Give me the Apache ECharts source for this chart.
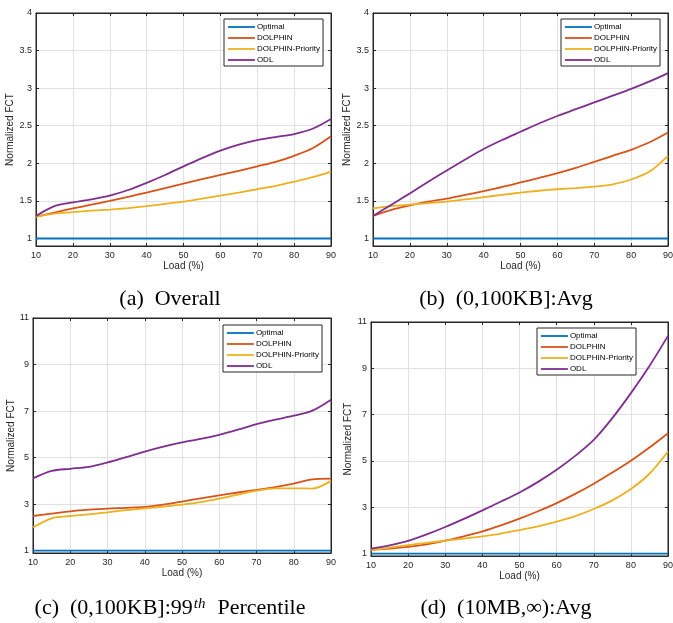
<!DOCTYPE html>
<html>
<head>
<meta charset="utf-8">
<script src="https://cdn.jsdelivr.net/npm/echarts@6/dist/echarts.min.js"></script>
<style>
  html, body { margin: 0; padding: 0; background: #fff; }
  #chart { width: 673px; height: 623px; }
</style>
</head>
<body>
<div id="chart"></div>
<script>
// loads on the x axis (%)
const loads = [10, 15, 20, 25, 30, 35, 40, 45, 50, 55, 60, 65, 70, 75, 80, 85, 90];

const seriesNames = ["Optimal", "DOLPHIN", "DOLPHIN-Priority", "ODL"];
const colors = ["#0072BD", "#D95319", "#EDB120", "#7E2F8E"];

const optimal = [1, 1, 1, 1, 1, 1, 1, 1, 1, 1, 1, 1, 1, 1, 1, 1, 1];

// (a) Overall
const overallDolphin = [1.29, 1.345, 1.40, 1.45, 1.50, 1.555, 1.61, 1.67, 1.73, 1.79, 1.845, 1.90, 1.96, 2.02, 2.10, 2.20, 2.36];
const overallPriority = [1.29, 1.33, 1.35, 1.37, 1.385, 1.405, 1.43, 1.46, 1.49, 1.53, 1.57, 1.61, 1.655, 1.70, 1.755, 1.815, 1.89];
const overallOdl = [1.30, 1.43, 1.48, 1.52, 1.57, 1.645, 1.74, 1.845, 1.96, 2.07, 2.17, 2.25, 2.31, 2.35, 2.39, 2.46, 2.59];

// (b) (0,100KB] avg
const smallAvgDolphin = [1.30, 1.38, 1.44, 1.49, 1.53, 1.58, 1.63, 1.685, 1.745, 1.805, 1.87, 1.94, 2.02, 2.10, 2.18, 2.28, 2.41];
const smallAvgPriority = [1.40, 1.43, 1.45, 1.47, 1.49, 1.52, 1.55, 1.58, 1.61, 1.635, 1.655, 1.67, 1.69, 1.72, 1.785, 1.89, 2.10];
const smallAvgOdl = [1.30, 1.45, 1.60, 1.755, 1.905, 2.05, 2.19, 2.31, 2.42, 2.53, 2.63, 2.72, 2.81, 2.90, 2.99, 3.09, 3.20];

// (c) (0,100KB] 99th percentile
const small99Dolphin = [2.49, 2.59, 2.69, 2.76, 2.81, 2.84, 2.88, 2.98, 3.11, 3.25, 3.38, 3.50, 3.61, 3.73, 3.88, 4.06, 4.10];
const small99Priority = [2.00, 2.39, 2.49, 2.56, 2.65, 2.74, 2.82, 2.89, 2.98, 3.09, 3.24, 3.41, 3.58, 3.68, 3.68, 3.67, 4.00];
const small99Odl = [4.11, 4.43, 4.52, 4.60, 4.79, 5.02, 5.26, 5.47, 5.65, 5.80, 5.98, 6.20, 6.44, 6.63, 6.80, 7.02, 7.49];

// (d) (10MB,inf) avg
const largeAvgDolphin = [1.17, 1.22, 1.29, 1.40, 1.56, 1.75, 1.96, 2.22, 2.51, 2.83, 3.18, 3.58, 4.02, 4.50, 5.01, 5.58, 6.20];
const largeAvgPriority = [1.14, 1.26, 1.37, 1.47, 1.56, 1.65, 1.75, 1.87, 2.02, 2.18, 2.38, 2.62, 2.93, 3.30, 3.79, 4.45, 5.41];
const largeAvgOdl = [1.22, 1.36, 1.55, 1.83, 2.15, 2.50, 2.87, 3.25, 3.64, 4.10, 4.62, 5.22, 5.91, 6.85, 7.93, 9.10, 10.40];

// tick labels
const loadTicks = [10, 20, 30, 40, 50, 60, 70, 80, 90];
const ticksLow = [1, 1.5, 2, 2.5, 3, 3.5, 4];
const ticksHigh = [1, 3, 5, 7, 9, 11];

const captions = [
  "(a)\u2002Overall",
  "(b)\u2002(0,100KB]:Avg",
  "{n|(c)\u2002(0,100KB]:99}{sup|th}{n|\u2002Percentile}",
  "(d)\u2002(10MB,\u221e):Avg"
];

const panels = [
  { grid: { left: 36, top: 13, width: 295, height: 233 }, yMax: 4, ticks: ticksLow, data: [optimal, overallDolphin, overallPriority, overallOdl], legend: [224, 19], nameGap: 20, cap: [170, 299] },
  { grid: { left: 373, top: 13, width: 295, height: 233 }, yMax: 4, ticks: ticksLow, data: [optimal, smallAvgDolphin, smallAvgPriority, smallAvgOdl], legend: [561, 19], nameGap: 20, cap: [506, 299] },
  { grid: { left: 33, top: 318, width: 298, height: 235 }, yMax: 11, ticks: ticksHigh, data: [optimal, small99Dolphin, small99Priority, small99Odl], legend: [223, 325], nameGap: 17, cap: [170, 608] },
  { grid: { left: 371, top: 322, width: 297, height: 234 }, yMax: 11, ticks: ticksHigh, data: [optimal, largeAvgDolphin, largeAvgPriority, largeAvgOdl], legend: [537, 328], nameGap: 18, cap: [506, 608] }
];

const axisColor = "#262626";
const gridColor = "#e1e1e1";
const sans = "'Liberation Sans', Arial, Helvetica, sans-serif";

const grid = [], xAxis = [], yAxis = [], series = [], legend = [], graphic = [];

panels.forEach((p, i) => {
  grid.push(Object.assign({ show: true, borderColor: axisColor, borderWidth: 1, outerBoundsMode: "none" }, p.grid));

  xAxis.push({
    type: "value", gridIndex: i, min: 10, max: 90, interval: 10,
    name: "Load (%)", nameLocation: "middle", nameGap: 15,
    nameTextStyle: { fontSize: 10, color: axisColor, fontFamily: sans },
    axisLine: { show: true, lineStyle: { color: axisColor, width: 1 } },
    axisTick: { show: true, inside: true, length: 3, lineStyle: { color: axisColor } },
    axisLabel: { fontSize: 9, color: axisColor, fontFamily: sans, margin: 5, showMinLabel: true, showMaxLabel: true,
      customValues: loadTicks },
    splitLine: { show: true, lineStyle: { color: gridColor, width: 1 } }
  });
  xAxis.push({
    type: "value", gridIndex: i, position: "top", min: 10, max: 90, interval: 10,
    axisLine: { show: true, lineStyle: { color: axisColor, width: 1 } },
    axisTick: { show: true, inside: true, length: 3, lineStyle: { color: axisColor } },
    axisLabel: { show: false }, splitLine: { show: false }
  });

  yAxis.push({
    type: "value", gridIndex: i, min: 0.9, max: p.yMax,
    name: "Normalized FCT", nameLocation: "middle", nameGap: p.nameGap, nameRotate: 90,
    nameTextStyle: { fontSize: 10, color: axisColor, fontFamily: sans },
    axisLine: { show: true, lineStyle: { color: axisColor, width: 1 } },
    axisTick: { show: true, inside: true, length: 3, lineStyle: { color: axisColor }, customValues: p.ticks },
    axisLabel: { fontSize: 9, color: axisColor, fontFamily: sans, margin: 4, customValues: p.ticks },
    splitLine: { show: true, lineStyle: { color: gridColor, width: 1 } }
  });
  yAxis.push({
    type: "value", gridIndex: i, position: "right", min: 0.9, max: p.yMax,
    axisLine: { show: true, lineStyle: { color: axisColor, width: 1 } },
    axisTick: { show: true, inside: true, length: 3, lineStyle: { color: axisColor }, customValues: p.ticks },
    axisLabel: { show: false }, splitLine: { show: false }
  });

  p.data.forEach((vals, k) => {
    series.push({
      name: seriesNames[k], type: "line",
      xAxisIndex: 2 * i, yAxisIndex: 2 * i,
      data: loads.map((x, j) => [x, vals[j]]),
      smooth: 0.3, symbol: "none", showSymbol: false,
      lineStyle: { color: colors[k], width: 1.8 },
      itemStyle: { color: colors[k] },
      emphasis: { disabled: true }, silent: true, z: 2 + k
    });
  });

  legend.push({
    left: p.legend[0], top: p.legend[1], orient: "vertical",
    data: seriesNames, selectedMode: false,
    itemWidth: 27, itemHeight: 8, itemGap: 3,
    padding: [4, 3, 2, 3],
    backgroundColor: "#fff", borderColor: axisColor, borderWidth: 1,
    itemStyle: { opacity: 0, borderWidth: 0 },
    lineStyle: { width: 1.8 },
    textStyle: { fontSize: 8, color: "#000", fontFamily: sans, padding: [0, 0, 0, -3] }
  });

  graphic.push({
    type: "text", x: p.cap[0], y: p.cap[1],
    style: {
      text: captions[i],
      font: "22px 'Liberation Serif', 'Times New Roman', serif",
      fill: "#000", textAlign: "center", textVerticalAlign: "middle",
      rich: {
        n: { fontSize: 22, fontFamily: "'Liberation Serif', serif", fill: "#000" },
        sup: { fontSize: 15, fontStyle: "italic", fontFamily: "'Liberation Serif', serif", fill: "#000", verticalAlign: "top", padding: [0, 1, 0, 1] }
      }
    }
  });
});

const chart = echarts.init(document.getElementById("chart"), null, { renderer: "canvas" });
chart.setOption({
  animation: false,
  backgroundColor: "#fff",
  grid, xAxis, yAxis, series, legend, graphic
});
</script>
</body>
</html>
